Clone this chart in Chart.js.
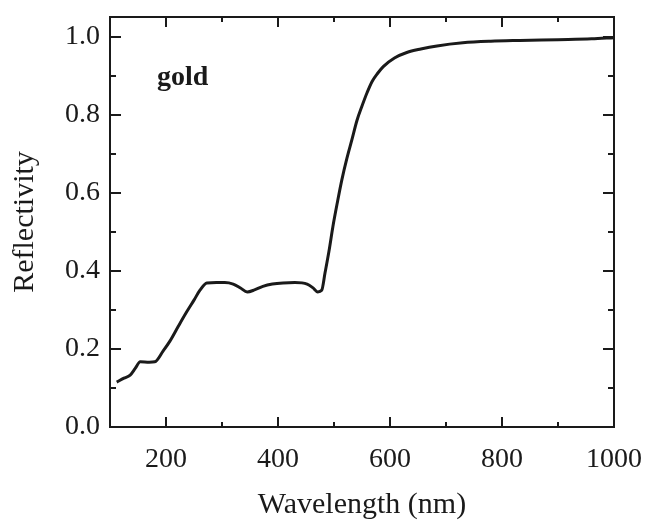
<!DOCTYPE html>
<html>
<head>
<meta charset="utf-8">
<script src="https://cdn.jsdelivr.net/npm/chart.js@4.4.1/dist/chart.umd.min.js"></script>
<style>
  html, body { margin: 0; padding: 0; background: #fff; }
  #wrap { width: 651px; height: 520px; }
</style>
</head>
<body>
<div id="wrap"><canvas id="grafico"></canvas></div>
<script>
// datos (longitud de onda en nm, reflectividad)
const wavelength = [112, 125, 136, 145, 154, 170, 180, 195, 207, 222, 237, 250, 261, 273, 290, 305, 320, 333, 345, 358, 373, 390, 409, 430, 452, 462, 471, 478, 484, 491, 498, 506, 514, 523, 532, 541, 550, 559, 568, 578, 588, 608, 630, 655, 684, 730, 780, 832, 900, 960, 1000];
const reflectivity = [0.115, 0.125, 0.133, 0.150, 0.167, 0.166, 0.167, 0.195, 0.220, 0.258, 0.295, 0.325, 0.351, 0.369, 0.370, 0.370, 0.366, 0.356, 0.346, 0.351, 0.360, 0.366, 0.369, 0.370, 0.366, 0.357, 0.346, 0.350, 0.395, 0.450, 0.513, 0.575, 0.633, 0.688, 0.736, 0.785, 0.822, 0.856, 0.885, 0.906, 0.923, 0.945, 0.959, 0.968, 0.976, 0.984, 0.988, 0.990, 0.992, 0.994, 0.997];

const xTicks = [200, 400, 600, 800, 1000];
const yTicks = [0.0, 0.2, 0.4, 0.6, 0.8, 1.0];
const etiqueta = 'gold';

const serif = '"Liberation Serif", "DejaVu Serif", serif';
const negro = '#1a1a1a';

// marco con marcas hacia dentro en los cuatro lados
const marco = {
    id: 'marco',
    afterDatasetsDraw(chart) {
        const ctx = chart.ctx;
        const a = chart.chartArea;
        const sx = chart.scales.x;
        const sy = chart.scales.y;
        ctx.save();
        ctx.strokeStyle = negro;
        ctx.lineWidth = 2;
        ctx.strokeRect(a.left, a.top, a.right - a.left, a.bottom - a.top);

        ctx.beginPath();
        for (let v = 100; v <= 1000; v += 100) {
            const px = Math.round(sx.getPixelForValue(v));
            const largo = (v % 200 === 0) ? 10 : 5;
            ctx.moveTo(px, a.bottom); ctx.lineTo(px, a.bottom - largo);
            ctx.moveTo(px, a.top); ctx.lineTo(px, a.top + largo);
        }
        for (let i = 0; i <= 10; i++) {
            const py = Math.round(sy.getPixelForValue(i / 10));
            const largo = (i % 2 === 0) ? 11 : 6;
            ctx.moveTo(a.left, py); ctx.lineTo(a.left + largo, py);
            ctx.moveTo(a.right, py); ctx.lineTo(a.right - largo, py);
        }
        ctx.stroke();

        // rotulo "gold"
        ctx.fillStyle = negro;
        ctx.font = 'bold 28px ' + serif;
        ctx.textAlign = 'left';
        ctx.textBaseline = 'alphabetic';
        ctx.fillText(etiqueta, sx.getPixelForValue(184), sy.getPixelForValue(0.877));
        ctx.restore();
    }
};

const ctx = document.getElementById('grafico').getContext('2d');

new Chart(ctx, {
    type: 'line',
    data: {
        datasets: [{
            data: wavelength.map((x, i) => ({ x: x, y: reflectivity[i] })),
            borderColor: negro,
            borderWidth: 3,
            pointRadius: 0,
            fill: false,
            cubicInterpolationMode: 'monotone'
        }]
    },
    options: {
        responsive: true,
        maintainAspectRatio: false,
        animation: false,
        layout: {
            padding: { left: 0, top: 17, right: 37, bottom: 0 }
        },
        plugins: {
            legend: { display: false },
            tooltip: { enabled: false }
        },
        scales: {
            x: {
                type: 'linear',
                min: 100,
                max: 1000,
                afterBuildTicks: s => { s.ticks = xTicks.map(v => ({ value: v })); },
                afterFit: s => { s.height = 93; s.paddingLeft = 0; s.paddingRight = 0; },
                grid: { display: false, drawTicks: false },
                border: { display: false },
                ticks: {
                    padding: 16,
                    maxRotation: 0,
                    color: negro,
                    font: { family: serif, size: 28 },
                    callback: v => String(v)
                },
                title: {
                    display: true,
                    text: 'Wavelength (nm)',
                    color: negro,
                    font: { family: serif, size: 30, lineHeight: 1 },
                    padding: 0
                }
            },
            y: {
                type: 'linear',
                min: 0,
                max: 1.05,
                afterBuildTicks: s => { s.ticks = yTicks.map(v => ({ value: v })); },
                afterFit: s => { s.width = 110; s.paddingTop = 0; s.paddingBottom = 0; },
                grid: { display: false, drawTicks: false },
                border: { display: false },
                ticks: {
                    padding: 10,
                    color: negro,
                    font: { family: serif, size: 28 },
                    callback: v => Number(v).toFixed(1)
                },
                title: {
                    display: true,
                    text: 'Reflectivity',
                    color: negro,
                    font: { family: serif, size: 30, lineHeight: 1 },
                    padding: { top: 10, bottom: 0 }
                }
            }
        }
    },
    plugins: [marco]
});
</script>
</body>
</html>
